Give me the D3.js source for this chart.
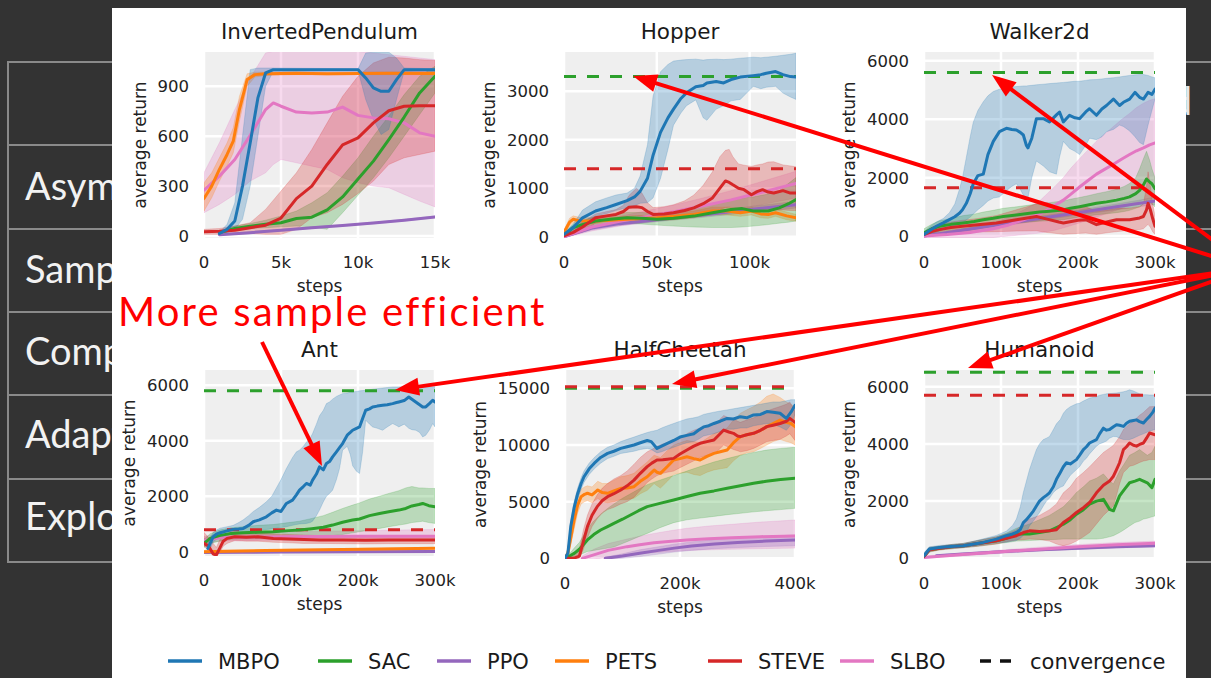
<!DOCTYPE html>
<html><head><meta charset="utf-8">
<script src="https://cdn.jsdelivr.net/npm/d3@7"></script>
<style>
html,body{margin:0;padding:0;background:#333;}
svg{display:block;}
</style></head><body>
<svg id="chart" width="1211" height="678"></svg>
<script>
// ---------- learning curves: [steps (k), mean, lower, upper] ----------
const pendulumMBPO = [[1,15,8,22],[1.5,40,20,70],[2,90,40,200],[2.5,300,100,600],[3,560,300,1000],[3.5,830,600,1010],[4,980,900,1010],[4.5,1000,990,1010],[10,1000,995,1005],[10.5,950,820,1100],[11,890,700,1105],[11.5,870,610,1105],[12,870,640,1105],[12.5,940,820,1070],[13,1000,990,1010],[15,1000,995,1005]];
const pendulumSAC = [[1,20,12,28],[2,45,35,60],[3,58,45,75],[4,70,50,95],[5,80,55,120],[6,105,60,150],[7,113,55,200],[8,157,40,260],[9,235,140,360],[10,342,245,470],[11,450,350,600],[12,580,470,720],[13,715,600,850],[14,860,730,960],[15,960,860,1020]];
const pendulumPPO = [[1,8,4,12],[3,20,15,25],[5,35,30,40],[7,50,45,55],[9,63,58,68],[11,78,73,83],[13,95,90,100],[15,115,110,120]];
const pendulumPETS = [[0,225,150,320],[0.5,300,230,380],[1,400,330,470],[1.5,490,420,560],[1.9,570,500,650],[2.3,760,690,840],[2.8,940,900,975],[3.3,970,955,985],[4,975,965,985],[6,978,970,986],[8,975,968,983],[10,977,970,985],[12,978,970,986],[15,977,970,985]];
const pendulumSTEVE = [[0,25,10,40],[1,28,10,45],[2,35,12,60],[3,50,15,80],[4,65,10,160],[5,108,10,270],[6,225,40,380],[7,300,110,520],[8,430,140,680],[9,548,190,840],[10,590,255,960],[11,680,330,1040],[12,753,430,1075],[13,780,470,1070],[14,783,490,1060],[15,783,510,1055]];
const pendulumSLBO = [[0,275,140,380],[1,360,190,560],[2,460,250,760],[3,605,330,950],[4,760,380,1100],[4.5,800,430,1110],[5,780,460,1110],[6,745,440,1110],[7,740,420,1110],[8,745,400,1110],[9,775,350,1110],[10,725,320,1110],[11,710,300,1100],[12,705,290,1090],[13,680,250,1080],[14,620,210,1070],[15,600,175,1060]];

const hopperMBPO = [[0,50,30,80],[5,190,100,260],[10,390,260,550],[17,530,430,720],[23,600,480,800],[28,665,540,860],[34,745,600,900],[38,820,640,1000],[41,935,690,1250],[45,1205,700,1900],[48,1680,800,2900],[52,2150,1200,3400],[56,2450,1800,3550],[59,2630,2300,3620],[63,2850,2550,3640],[66,2965,2700,3650],[71,3090,2820,3660],[75,3115,2450,3640],[77,3170,2400,3650],[82,3200,2630,3660],[86,3170,2700,3650],[90,3240,2800,3660],[95,3290,2830,3680],[102,3320,3100,3700],[106,3340,3050,3690],[109,3370,3080,3700],[114,3405,3100,3720],[118,3340,2960,3740],[122,3300,2880,3760],[125,3290,2830,3780]];
const hopperSAC = [[0,30,0,60],[5,190,120,260],[10,250,170,330],[17,325,240,420],[25,360,260,460],[34,390,280,500],[42,380,260,500],[50,360,240,480],[59,380,220,520],[70,425,200,600],[80,495,190,680],[90,560,190,760],[96,580,200,800],[102,530,220,820],[110,530,250,880],[116,595,280,950],[121,680,300,1100],[125,765,325,1220]];
const hopperPPO = [[0,0,-10,20],[15,180,140,220],[30,270,230,310],[50,350,310,390],[75,450,400,500],[100,560,500,620],[125,660,590,730]];
const hopperPETS = [[0,90,40,140],[3,300,220,380],[5,360,290,430],[8,330,260,400],[14,325,260,390],[25,340,280,400],[34,360,300,420],[42,375,310,440],[50,390,330,450],[60,420,350,490],[70,460,390,530],[80,530,450,610],[88,530,450,610],[95,495,420,570],[101,530,450,610],[106,470,390,550],[110,460,380,540],[114,495,420,570],[120,430,350,510],[125,390,320,460]];
const hopperSTEVE = [[0,20,0,50],[5,90,40,160],[10,200,100,300],[17,390,280,470],[23,430,320,520],[28,460,350,560],[32,520,380,650],[35,610,420,850],[39,620,430,1000],[42,600,420,900],[45,520,400,700],[48,460,380,600],[54,470,390,620],[59,495,400,660],[65,540,420,740],[70,595,440,860],[75,680,470,1060],[80,800,500,1340],[84,1000,560,1650],[87,1150,600,1780],[89,1120,610,1800],[91,1070,600,1650],[94,1000,580,1500],[97,970,570,1475],[101,865,560,1450],[104,930,560,1480],[107,970,560,1500],[110,920,550,1540],[113,900,550,1545],[118,950,550,1480],[122,900,540,1460],[125,900,540,1440]];
const hopperSLBO = [[0,0,-20,30],[15,200,120,280],[30,320,220,420],[45,420,300,540],[60,520,380,660],[75,640,470,800],[90,760,560,950],[105,900,650,1120],[125,1100,800,1350]];

const walkerMBPO = [[0,55,0,150],[8,200,50,330],[16,335,120,480],[25,450,220,600],[33,560,300,800],[40,660,350,1100],[46,780,400,1600],[50,900,450,2000],[55,1120,550,2700],[60,1450,650,3400],[64,1790,750,3900],[70,2070,900,4300],[77,2120,1050,4600],[83,2790,1200,4800],[90,3240,1300,4950],[98,3575,1340,5030],[107,3690,1550,5080],[114,3650,1700,5100],[120,3630,1790,5120],[125,3550,1600,5130],[129,3460,1400,5140],[133,3100,1230,5140],[135,3020,1300,5150],[140,3350,2000,5160],[146,4020,2570,5180],[155,4020,2400,5200],[163,3910,2200,5220],[172,4150,2120,5240],[176,4245,2700,5250],[181,3910,3240,5260],[189,4135,3000,5280],[196,4050,2900,5300],[202,4020,2790,5300],[210,4250,3100,5330],[215,4360,3350,5350],[224,4135,3300,5360],[231,4350,3400,5380],[237,4470,3575,5400],[246,4690,3650,5420],[254,4470,3800,5450],[259,4580,3750,5470],[267,4690,3600,5500],[274,4920,3400,5520],[280,4750,3200,5530],[285,4690,3130,5530],[291,4920,3800,5500],[296,4850,4300,5450],[300,5030,4690,5420]];
const walkerSAC = [[0,110,0,250],[10,250,100,400],[20,335,150,520],[35,400,200,600],[51,450,250,700],[65,500,280,750],[77,560,320,820],[90,610,360,880],[103,670,400,950],[120,720,440,1000],[137,780,480,1060],[150,820,510,1100],[159,840,520,1120],[170,870,540,1170],[181,890,560,1200],[190,950,600,1260],[202,1005,650,1320],[213,1060,690,1380],[224,1120,730,1450],[237,1170,760,1520],[250,1230,800,1600],[260,1290,840,1700],[267,1340,880,1800],[275,1450,950,2000],[280,1565,1000,2300],[285,1750,1100,2650],[289,1955,1200,2900],[293,1850,1150,2600],[296,1790,1100,2300],[300,1620,1000,2000]];
const walkerPPO = [[0,0,-30,40],[50,200,150,250],[100,400,340,460],[150,600,530,670],[200,800,720,880],[250,1000,900,1100],[300,1200,1080,1320]];
const walkerSTEVE = [[0,50,0,120],[10,150,30,300],[20,220,60,400],[35,290,100,480],[50,335,120,540],[70,390,140,600],[94,450,150,700],[120,560,170,900],[146,670,180,1100],[160,580,120,1150],[175,480,80,1000],[181,450,60,950],[200,540,90,980],[210,560,100,1000],[224,390,60,850],[240,500,120,900],[250,560,150,950],[267,560,200,950],[280,620,220,1000],[285,670,250,1100],[289,900,350,1700],[291,1120,400,2200],[294,900,300,1700],[297,600,150,1100],[300,335,50,700]];
const walkerSLBO = [[0,0,-50,60],[30,50,-50,150],[60,120,-50,280],[90,250,-50,450],[110,380,0,650],[130,560,50,900],[150,750,100,1200],[160,890,150,1450],[170,1050,200,1700],[181,1230,280,2000],[190,1420,350,2300],[202,1680,450,2650],[213,1900,550,2950],[224,2120,650,3250],[235,2290,750,3500],[246,2460,850,3750],[257,2640,950,4000],[267,2790,1050,4200],[276,2920,1150,4400],[285,3020,1250,4550],[293,3120,1300,4650],[300,3185,1340,4700]];

const antMBPO = [[5,120,0,300],[8,300,100,500],[12,540,350,700],[16,630,450,780],[21,685,520,850],[30,750,600,900],[38,805,650,950],[45,820,680,1050],[51,840,700,1150],[58,950,720,1300],[64,1080,750,1450],[72,1150,780,1600],[81,1260,800,1800],[88,1400,820,2000],[94,1500,850,2300],[100,1450,870,2600],[107,1740,900,3000],[115,1860,950,3400],[120,2050,980,3600],[124,2220,1000,3660],[129,2350,1010,3800],[133,2460,1020,3950],[138,2400,1050,4100],[141,2580,1100,4260],[146,2800,1300,4600],[150,3060,1500,4900],[155,2950,1800,5100],[159,3180,2000,5340],[163,3250,2100,5400],[167,3420,2220,5500],[172,3600,2600,5600],[176,3750,3000,5650],[180,3900,3660,5700],[186,4200,3800,5720],[190,4300,3500,5750],[193,4380,3100,5760],[198,4450,2900,5780],[202,4500,2820,5800],[206,4800,3600,5810],[210,5100,4740,5820],[215,5150,4600,5840],[219,5220,4500,5860],[225,5250,4450,5880],[232,5280,4380,5900],[238,5300,4500,5920],[245,5340,4620,5940],[250,5380,4550,5940],[253,5400,4500,5940],[260,5450,4600,5950],[266,5580,4450,5950],[270,5500,4400,5950],[275,5400,4380,5950],[280,5300,4300,5950],[284,5220,4140,5950],[288,5220,4200,5950],[293,5350,4400,5950],[297,5460,4620,5950],[300,5400,4500,5950]];
const antSAC = [[0,300,150,450],[8,480,300,650],[20,580,380,780],[35,660,450,860],[50,680,460,900],[70,700,470,950],[90,720,480,980],[110,760,500,1050],[124,780,500,1100],[140,830,520,1200],[155,880,540,1300],[167,960,580,1420],[180,1060,620,1560],[193,1140,680,1680],[202,1180,720,1760],[215,1300,780,1900],[228,1380,840,2000],[240,1440,900,2100],[253,1500,960,2200],[262,1560,1000,2300],[270,1650,1050,2350],[279,1700,1080,2300],[284,1740,1100,2300],[292,1660,1050,2280],[300,1620,1020,2280]];
const antPPO = [[0,-30,-60,0],[50,-20,-50,10],[100,-10,-40,20],[200,0,-30,30],[300,10,-20,40]];
const antPETS = [[0,0,-30,40],[30,20,0,50],[80,40,15,70],[130,60,30,90],[180,80,50,110],[230,100,70,130],[300,120,90,150]];
const antSTEVE = [[0,300,200,700],[6,200,50,500],[12,-80,-140,300],[16,-120,-140,150],[20,100,-50,400],[25,380,200,600],[30,480,300,640],[40,540,400,700],[55,520,380,680],[70,540,380,700],[90,480,340,640],[110,460,320,620],[130,440,300,600],[150,420,300,580],[180,420,290,580],[210,410,280,560],[240,420,290,580],[270,420,290,580],[300,420,290,580]];
const antSLBO = [[0,400,300,550],[20,500,380,650],[50,520,400,700],[100,540,420,720],[150,550,420,740],[200,560,420,760],[250,560,420,780],[300,560,420,800]];

const cheetahMBPO = [[0,0,0,100],[5,440,200,800],[10,2800,2300,3300],[16,4500,4000,5000],[22,5700,5200,6200],[28,6600,6100,7100],[33,7200,6700,7700],[42,7900,7400,8400],[51,8400,7900,8900],[62,8900,8400,9400],[74,9260,8800,9800],[85,9450,9000,10000],[97,9700,9250,10300],[108,9850,9350,10500],[120,10000,9450,10700],[131,10200,9600,10900],[143,10400,9700,11100],[150,10300,9600,11200],[160,9700,9300,11300],[168,9900,9400,11500],[178,10150,9600,11700],[189,10400,9800,11900],[200,10700,10000,12100],[212,10850,10200,12300],[224,11000,10300,12400],[232,11300,10500,12500],[241,11600,10800,12700],[250,11700,10900,12800],[259,11900,11000,12900],[270,12100,11200,13000],[282,12350,11400,13100],[293,12300,11400,13200],[305,12500,11500,13300],[316,12400,11500,13400],[328,12650,11700,13500],[340,12700,11800,13600],[351,12950,11900,13700],[362,12900,11800,13800],[374,12800,11600,13800],[385,12350,11300,13900],[393,12900,11800,14000],[400,13500,12700,14000]];
const cheetahSAC = [[0,0,0,0],[8,200,50,400],[16,440,150,900],[25,800,300,1400],[39,1620,600,2600],[50,2100,700,3300],[62,2500,800,3900],[74,2800,900,4400],[85,3090,1000,4800],[100,3450,1300,5300],[114,3820,1600,5700],[128,4200,1900,6100],[143,4560,2200,6500],[165,4850,2700,6900],[189,5150,3150,7300],[212,5450,3400,7700],[235,5740,3550,8100],[259,5950,3700,8500],[282,6180,3850,8800],[305,6400,3970,9100],[328,6620,4100,9350],[350,6800,4200,9550],[375,6950,4300,9700],[400,7060,4410,9800]];
const cheetahPPO = [[70,0,-100,100],[100,200,0,400],[130,450,150,750],[160,680,350,1000],[190,900,550,1250],[220,1080,700,1450],[260,1260,850,1650],[300,1400,950,1800],[350,1520,1050,1950],[400,1620,1100,2050]];
const cheetahPETS = [[0,0,0,100],[5,440,200,800],[10,1800,1200,2600],[16,3400,2600,4200],[22,4700,4000,5400],[28,5440,4800,6100],[34,5650,5000,6300],[39,5740,5100,6400],[47,5600,4900,6300],[57,6030,5300,6800],[65,5800,5000,6600],[74,5740,4900,6600],[85,5950,5000,6900],[97,6180,5200,7200],[108,6200,5200,7300],[120,6320,5300,7500],[131,6800,5700,8000],[143,7200,6000,8500],[149,7500,6300,8800],[155,7790,6600,9100],[160,7600,6400,9000],[166,7500,6200,8900],[178,8100,6800,9500],[189,8680,7400,10000],[200,8800,7500,10200],[212,8970,7600,10400],[224,8800,7400,10300],[235,8680,7300,10200],[247,9000,7600,10600],[259,9260,7800,11000],[270,9400,7900,11200],[282,9560,8000,11500],[293,10200,8600,12200],[305,10740,9100,12800],[316,10900,9300,13100],[328,11030,9400,13400],[340,11300,9700,13800],[351,11620,10000,14300],[362,11900,10300,14500],[374,12200,10500,14200],[385,12000,10300,13800],[393,11900,10200,13600],[400,11620,10000,13300]];
const cheetahSTEVE = [[0,0,0,50],[15,0,-100,200],[25,200,0,800],[32,1500,800,2500],[39,2800,1800,3800],[47,3800,2800,4800],[56,4560,3500,5600],[65,5100,4000,6200],[74,5440,4300,6600],[85,5700,4500,7000],[97,6030,4800,7300],[108,6400,5000,7700],[120,6900,5400,8300],[131,7500,6000,8900],[143,8090,6700,9400],[151,8400,7000,9600],[160,8680,7300,9900],[170,8700,7500,10100],[178,8750,7600,10200],[189,8820,7700,10300],[200,9200,8000,10600],[212,9560,8300,11000],[224,9900,8600,11300],[235,10150,8900,11500],[247,10300,9100,11600],[259,10440,9200,11800],[268,10900,9600,12200],[276,11320,10000,12600],[285,11150,9800,12400],[293,11030,9600,12300],[300,10800,9500,12100],[305,10740,9400,12000],[316,10900,9500,12200],[328,11030,9700,12400],[340,11300,10000,12700],[351,11620,10300,13000],[362,11750,10400,13200],[374,11900,10500,13400],[385,12100,10800,13600],[391,12350,11000,13800],[400,12000,10400,13000]];
const cheetahSLBO = [[30,0,-100,200],[50,300,-100,800],[75,700,100,1300],[108,1030,300,1700],[130,1200,400,1950],[155,1380,500,2200],[185,1500,600,2450],[212,1620,700,2650],[250,1720,750,2850],[290,1820,800,3000],[340,1910,850,3200],[400,1970,900,3380]];

const humanoidMBPO = [[0,90,0,200],[7,325,250,400],[20,380,320,450],[35,410,350,480],[51,440,380,520],[65,500,420,600],[77,555,470,680],[94,670,540,800],[107,790,560,950],[115,850,600,1150],[120,905,620,1370],[125,1000,700,1800],[129,1250,800,2300],[133,1350,900,2700],[137,1480,1130,3100],[142,1650,1300,3500],[146,1830,1450,3800],[150,2000,1600,4000],[155,2120,1830,4150],[159,2200,2000,4200],[163,2290,2100,4260],[168,2500,2300,4500],[172,2760,2400,4700],[177,3000,2480,4850],[181,3200,2530,5070],[185,3340,2700,5200],[190,3300,2900,5300],[198,3450,3100,5400],[202,3600,3200,5420],[207,3800,3400,5500],[211,3900,3500,5550],[215,4030,3650,5600],[224,4150,3920,5650],[228,4350,4000,5700],[233,4550,4050,5730],[237,4480,4100,5750],[241,4500,4200,5760],[246,4600,4260,5770],[250,4670,4250,5780],[254,4650,4200,5800],[259,4610,4150,5820],[263,4720,4150,5850],[267,4790,4150,5890],[272,4820,4200,5850],[276,4840,4250,5800],[280,4780,4300,5750],[285,4730,4350,5720],[289,4850,4400,5720],[293,4960,4450,5710],[297,5100,4480,5710],[300,5250,4500,5710]];
const humanoidSAC = [[0,70,0,150],[7,300,220,380],[20,350,290,420],[35,400,330,480],[51,440,370,520],[70,520,420,620],[94,615,500,750],[107,700,550,880],[120,845,600,1050],[137,850,620,1200],[150,900,640,1350],[163,960,650,1500],[181,1190,670,1800],[190,1350,670,2050],[198,1540,670,2300],[207,1700,670,2500],[215,1890,670,2700],[224,2000,670,2800],[233,2060,700,2950],[241,1710,750,2700],[246,1660,790,2600],[254,2180,900,3050],[260,2400,1000,3300],[267,2640,1130,3600],[274,2700,1250,3700],[280,2760,1300,3800],[285,2700,1370,3700],[290,2640,1400,3600],[296,2470,1450,3700],[300,2760,1480,3920]];
const humanoidPPO = [[16,90,70,110],[50,150,120,180],[100,230,200,260],[150,300,260,330],[200,350,310,390],[250,400,360,440],[300,440,400,480]];
const humanoidSTEVE = [[0,70,0,150],[7,300,220,380],[20,350,290,420],[35,400,330,480],[51,440,370,520],[70,520,420,620],[94,615,500,750],[107,700,580,850],[120,790,640,1000],[129,900,650,1200],[137,960,670,1370],[150,940,660,1500],[163,960,600,1700],[172,1000,500,1900],[181,1250,440,2290],[190,1420,500,2500],[198,1600,600,2800],[207,1770,750,3000],[215,1950,900,3200],[224,2290,1200,3450],[233,2550,1500,3700],[241,2700,1700,3850],[246,2870,1830,3950],[250,3100,2200,4100],[254,3340,2600,4250],[259,3800,3000,4500],[263,3900,3100,4600],[267,4030,3220,4700],[272,3950,3250,4800],[276,3920,3300,4900],[280,3980,3350,5000],[285,4030,3400,5100],[289,4200,3420,5200],[293,4380,3450,5300],[300,4320,3450,5310]];
const humanoidSLBO = [[0,30,0,80],[50,130,80,180],[100,230,170,290],[150,320,250,390],[200,400,320,480],[250,470,390,550],[300,530,450,600]];

// convergence levels: [SAC, STEVE]
const hopperConvergence = [3300, 1400];
const walkerConvergence = [5600, 1650];
const antConvergence = [5800, 790];
const cheetahConvergence = [15000, 15150];
const humanoidConvergence = [6500, 5700];

// tick values
const pendulumXTicks = [0, 5, 10, 15];
const pendulumYTicks = [0, 300, 600, 900];
const hopperXTicks = [0, 50, 100];
const hopperYTicks = [0, 1000, 2000, 3000];
const walkerXTicks = [0, 100, 200, 300];
const walkerYTicks = [0, 2000, 4000, 6000];
const antXTicks = [0, 100, 200, 300];
const antYTicks = [0, 2000, 4000, 6000];
const cheetahXTicks = [0, 200, 400];
const cheetahYTicks = [0, 5000, 10000, 15000];
const humanoidXTicks = [0, 100, 200, 300];
const humanoidYTicks = [0, 2000, 4000, 6000];

const methods = ["MBPO", "SAC", "PPO", "PETS", "STEVE", "SLBO"];
const methodColors = ["#1f77b4", "#2ca02c", "#9467bd", "#ff7f0e", "#d62728", "#e377c2"];
const legendLabels = ["MBPO", "SAC", "PPO", "PETS", "STEVE", "SLBO", "convergence"];

// slide table row headings (the card covers their right part)
const tableRows = ["Asymp", "Sampl", "Compu", "Adapt", "Explor"];
const tableHeader = "d";
const calloutText = "More sample efficient";

// ---------- layout ----------
const W = 1211, H = 678;
const svg = d3.select("#chart");
const color = d3.scaleOrdinal(methods, methodColors);
const FONT = "'DejaVu Sans', sans-serif";

// slide background and the table behind the figure
svg.append("rect").attr("width", W).attr("height", H).attr("fill", "#333333");
const rowLines = [62, 145, 229, 312, 395, 479, 562];
const table = svg.append("g");
rowLines.forEach(yy => table.append("line").attr("x1", 7).attr("x2", W).attr("y1", yy).attr("y2", yy)
  .attr("stroke", "#8a8a8a").attr("stroke-width", 2));
table.append("line").attr("x1", 8).attr("x2", 8).attr("y1", 62).attr("y2", 562)
  .attr("stroke", "#8a8a8a").attr("stroke-width", 2);
table.append("text").attr("x", 1192).attr("y", 115).attr("text-anchor", "end")
  .attr("font-family", "Lato, sans-serif").attr("font-size", 38).attr("fill", "#e6e6e6").text(tableHeader);
tableRows.forEach((t, i) => table.append("text").attr("x", 25).attr("y", 200 + i * 82.6)
  .attr("font-family", "Lato, sans-serif").attr("font-size", 38).attr("fill", "#f2f2f2").text(t));

// white figure card
svg.append("rect").attr("x", 112).attr("y", 8).attr("width", 1074).attr("height", 670).attr("fill", "#ffffff");

const panels = [
  {title: "InvertedPendulum", left: 204, right: 435, top: 52, bottom: 238, xMax: 15, yDomain: [-12, 1106],
   xTicks: pendulumXTicks, yTicks: pendulumYTicks, conv: null,
   series: {MBPO: pendulumMBPO, SAC: pendulumSAC, PPO: pendulumPPO, PETS: pendulumPETS, STEVE: pendulumSTEVE, SLBO: pendulumSLBO}},
  {title: "Hopper", left: 564, right: 796, top: 52, bottom: 238, xMax: 125, yDomain: [-26, 3807],
   xTicks: hopperXTicks, yTicks: hopperYTicks, conv: hopperConvergence,
   series: {MBPO: hopperMBPO, SAC: hopperSAC, PPO: hopperPPO, PETS: hopperPETS, STEVE: hopperSTEVE, SLBO: hopperSLBO}},
  {title: "Walker2d", left: 924, right: 1155, top: 52, bottom: 238, xMax: 300, yDomain: [-67, 6302],
   xTicks: walkerXTicks, yTicks: walkerYTicks, conv: walkerConvergence,
   series: {MBPO: walkerMBPO, SAC: walkerSAC, PPO: walkerPPO, STEVE: walkerSTEVE, SLBO: walkerSLBO}},
  {title: "Ant", left: 204, right: 435, top: 370, bottom: 556, xMax: 300, yDomain: [-155, 6552],
   xTicks: antXTicks, yTicks: antYTicks, conv: antConvergence,
   series: {MBPO: antMBPO, SAC: antSAC, PPO: antPPO, PETS: antPETS, STEVE: antSTEVE, SLBO: antSLBO}},
  {title: "HalfCheetah", left: 565, right: 795, top: 370, bottom: 559, xMax: 400, yDomain: [-60, 16620],
   xTicks: cheetahXTicks, yTicks: cheetahYTicks, conv: cheetahConvergence,
   series: {MBPO: cheetahMBPO, SAC: cheetahSAC, PPO: cheetahPPO, PETS: cheetahPETS, STEVE: cheetahSTEVE, SLBO: cheetahSLBO}},
  {title: "Humanoid", left: 924, right: 1155, top: 370, bottom: 559, xMax: 300, yDomain: [-25, 6583],
   xTicks: humanoidXTicks, yTicks: humanoidYTicks, conv: humanoidConvergence,
   series: {MBPO: humanoidMBPO, SAC: humanoidSAC, PPO: humanoidPPO, STEVE: humanoidSTEVE, SLBO: humanoidSLBO}}
];

const bandOrder = ["SLBO", "PPO", "PETS", "SAC", "STEVE", "MBPO"];
const lineOrder = ["PPO", "SLBO", "PETS", "SAC", "STEVE", "MBPO"];
const kFormat = d => d === 0 ? "0" : d + "k";

panels.forEach((p, pi) => {
  const x = d3.scaleLinear().domain([0, p.xMax]).range([p.left, p.right]);
  const y = d3.scaleLinear().domain(p.yDomain).range([p.bottom, p.top]);
  const g = svg.append("g");
  const clipId = "clip" + pi;
  g.append("clipPath").attr("id", clipId).append("rect")
    .attr("x", p.left).attr("y", p.top).attr("width", p.right - p.left).attr("height", p.bottom - p.top);

  g.append("rect").attr("x", p.left).attr("y", p.top).attr("width", p.right - p.left)
    .attr("height", p.bottom - p.top).attr("fill", "#efefef");

  // grid
  const grid = g.append("g").attr("clip-path", `url(#${clipId})`);
  p.yTicks.forEach(t => grid.append("line").attr("x1", p.left).attr("x2", p.right)
    .attr("y1", y(t)).attr("y2", y(t)).attr("stroke", "#fff").attr("stroke-width", 2.5));
  p.xTicks.forEach(t => grid.append("line").attr("y1", p.top).attr("y2", p.bottom)
    .attr("x1", x(t)).attr("x2", x(t)).attr("stroke", "#fff").attr("stroke-width", 2.5));

  const plot = g.append("g").attr("clip-path", `url(#${clipId})`);
  const area = d3.area().x(d => x(d[0])).y0(d => y(d[2])).y1(d => y(d[3]));
  const line = d3.line().x(d => x(d[0])).y(d => y(d[1]));

  bandOrder.forEach(m => {
    if (!p.series[m]) return;
    plot.append("path").datum(p.series[m]).attr("d", area)
      .attr("fill", color(m)).attr("fill-opacity", 0.27).attr("stroke", color(m))
      .attr("stroke-opacity", 0.2).attr("stroke-width", 1);
  });

  if (p.conv) {
    [["SAC", p.conv[0]], ["STEVE", p.conv[1]]].forEach(([m, v]) => {
      plot.append("line").attr("x1", x(0)).attr("x2", x(p.xMax)).attr("y1", y(v)).attr("y2", y(v))
        .attr("stroke", color(m)).attr("stroke-width", 3).attr("stroke-dasharray", "12,11");
    });
  }

  lineOrder.forEach(m => {
    if (!p.series[m]) return;
    plot.append("path").datum(p.series[m]).attr("d", line)
      .attr("fill", "none").attr("stroke", color(m)).attr("stroke-width", 3)
      .attr("stroke-linejoin", "round").attr("stroke-linecap", "round");
  });

  // tick labels
  const yt = g.append("g");
  p.yTicks.forEach(t => yt.append("text").attr("x", p.left - 15).attr("y", y(t) + 6)
    .attr("text-anchor", "end")
    .attr("font-family", FONT).attr("font-size", 16.5).attr("fill", "#222").text(d3.format("d")(t)));
  p.xTicks.forEach(t => g.append("text").attr("x", x(t)).attr("y", p.bottom + 30)
    .attr("text-anchor", "middle")
    .attr("font-family", FONT).attr("font-size", 16.5).attr("fill", "#222").text(kFormat(t)));

  const maxW = d3.max(yt.selectAll("text").nodes(), n => n.getComputedTextLength());
  const labelX = p.left - 15 - maxW - 12;
  g.append("text").attr("transform", `translate(${labelX},${(p.top + p.bottom) / 2}) rotate(-90)`)
    .attr("text-anchor", "middle")
    .attr("font-family", FONT).attr("font-size", 17).attr("fill", "#222").text("average return");
  g.append("text").attr("x", (p.left + p.right) / 2).attr("y", p.bottom + 54)
    .attr("text-anchor", "middle")
    .attr("font-family", FONT).attr("font-size", 17).attr("fill", "#222").text("steps");
  g.append("text").attr("x", (p.left + p.right) / 2).attr("y", p.top - 13)
    .attr("text-anchor", "middle").attr("font-family", FONT).attr("font-size", 21.5)
    .attr("fill", "#1a1a1a").text(p.title);
});

// legend
const legendX = [168, 318, 437, 555, 708, 840, 980];
const legendY = 661;
legendLabels.forEach((lab, i) => {
  const lg = svg.append("g");
  const isConv = lab === "convergence";
  lg.append("line").attr("x1", legendX[i]).attr("x2", legendX[i] + 34).attr("y1", legendY).attr("y2", legendY)
    .attr("stroke", isConv ? "#111" : color(lab)).attr("stroke-width", 3.5)
    .attr("stroke-dasharray", isConv ? "11,9" : null);
  lg.append("text").attr("x", legendX[i] + 50).attr("y", legendY + 7.5)
    .attr("font-family", FONT).attr("font-size", 21).attr("fill", "#1a1a1a").text(lab);
});

// annotations
svg.append("text").attr("x", 118).attr("y", 326).attr("font-family", "Lato, sans-serif")
  .attr("font-size", 40).attr("letter-spacing", 2.2).attr("fill", "#ff0000").text(calloutText);

function arrow(x1, y1, x2, y2) {
  const a = Math.atan2(y2 - y1, x2 - x1);
  const headLen = 24, headW = 9;
  const bx = x2 - headLen * Math.cos(a), by = y2 - headLen * Math.sin(a);
  svg.append("line").attr("x1", x1).attr("y1", y1).attr("x2", bx + 2 * Math.cos(a)).attr("y2", by + 2 * Math.sin(a))
    .attr("stroke", "#ff0000").attr("stroke-width", 4);
  svg.append("polygon").attr("fill", "#ff0000").attr("points", [
    [x2, y2],
    [bx + headW * Math.sin(a), by - headW * Math.cos(a)],
    [bx - headW * Math.sin(a), by + headW * Math.cos(a)]
  ].map(q => q.join(",")).join(" "));
}
arrow(262, 342, 322, 466);
const hub = [1250, 268];
[[633, 76], [992, 75], [395, 390], [672, 384], [968, 368]].forEach(t => arrow(hub[0], hub[1], t[0], t[1]));
</script>
</body></html>
